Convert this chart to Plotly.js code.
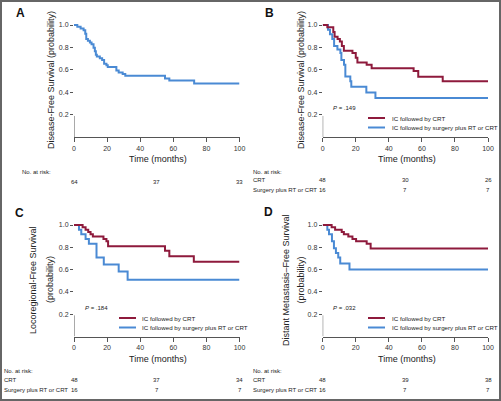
<!DOCTYPE html>
<html>
<head>
<meta charset="utf-8">
<script src="https://cdn.plot.ly/plotly-3.0.1.min.js"></script>
<style>html,body{margin:0;padding:0;background:#fff;}#chart{width:501px;height:401px;}</style>
</head>
<body>
<div id="chart"></div>
<script>
// ---------------- DATA ----------------
const xTicks = [0, 20, 40, 60, 80, 100];
const yTicks = [0.2, 0.4, 0.6, 0.8, 1.0];
const riskTimes = [0, 50, 100];

// Panel A: disease-free survival, all patients
const dfsAllT = [0, 2, 4, 5.8, 6.8, 7.4, 8.4, 9.6, 10.6, 11.8, 12.6, 13.2, 13.8, 15.6, 17, 18.2, 19.6, 20.4, 25.6, 27, 29.4, 31, 55, 57.6, 72.6, 100];
const dfsAllS = [1, 0.984, 0.969, 0.953, 0.922, 0.875, 0.859, 0.844, 0.828, 0.797, 0.766, 0.734, 0.719, 0.703, 0.688, 0.656, 0.641, 0.625, 0.594, 0.578, 0.563, 0.547, 0.523, 0.505, 0.48, 0.48];

// Panel B: disease-free survival by group
const dfsCrtT = [0, 2.8, 6.4, 7.2, 9, 10.4, 11.6, 12.8, 18, 20, 21, 26.6, 29.6, 55, 57.8, 72.6, 100];
const dfsCrtS = [1, 0.979, 0.938, 0.896, 0.875, 0.854, 0.813, 0.771, 0.75, 0.708, 0.667, 0.646, 0.614, 0.59, 0.54, 0.50, 0.50];
const dfsSurgT = [0, 3.2, 4.4, 5.8, 6.9, 8.9, 10.7, 11.3, 12.9, 13.7, 16.7, 17.3, 26.4, 31.9, 100];
const dfsSurgS = [1, 0.958, 0.917, 0.875, 0.813, 0.781, 0.75, 0.688, 0.646, 0.542, 0.5, 0.45, 0.40, 0.35, 0.35];

// Panel C: locoregional-free survival
const lrfsCrtT = [0, 5.2, 7, 8.6, 10, 11.4, 17.8, 19.6, 20.6, 55, 57.6, 72.4, 100];
const lrfsCrtS = [1, 0.979, 0.958, 0.938, 0.917, 0.896, 0.875, 0.854, 0.81, 0.77, 0.72, 0.67, 0.67];
const lrfsSurgT = [0, 3, 4.4, 7, 9, 13.6, 18, 27, 32.4, 100];
const lrfsSurgS = [1, 0.958, 0.917, 0.875, 0.833, 0.708, 0.646, 0.583, 0.51, 0.51];

// Panel D: distant metastasis-free survival
const dmfsCrtT = [0, 5.4, 7.5, 11.5, 12.8, 15.5, 18, 20.2, 26.6, 29, 100];
const dmfsCrtS = [1, 0.979, 0.958, 0.938, 0.917, 0.896, 0.875, 0.854, 0.833, 0.79, 0.79];
const dmfsSurgT = [0, 2.8, 3.8, 5.6, 6.8, 8, 9.4, 10.6, 16.2, 100];
const dmfsSurgS = [1, 0.958, 0.917, 0.854, 0.792, 0.75, 0.708, 0.656, 0.60, 0.60];

// Numbers at risk
const riskA = [64, 37, 33];
const riskBCrt = [48, 30, 26];
const riskBSurg = [16, 7, 7];
const riskCCrt = [48, 37, 34];
const riskCSurg = [16, 7, 7];
const riskDCrt = [48, 39, 38];
const riskDSurg = [16, 7, 7];

const panelLabels = ['A', 'B', 'C', 'D'];
const yTitleLines = [
  ['Disease-Free Survival (probability)'],
  ['Disease-Free Survival (probability)'],
  ['Locoregional-Free Survival', '(probability)'],
  ['Distant Metastasis\u2013Free Survival', '(probability)']
];
const xTitle = 'Time (months)';
const pValues = ['.149', '.184', '.032'];
const legendLabels = ['IC followed by CRT', 'IC followed by surgery plus RT or CRT'];
const riskHeader = 'No. at risk:';
const groupRowLabels = ['CRT', 'Surgery plus RT or CRT'];

// ---------------- STYLE / LAYOUT ----------------
const W = 501, H = 401;
const px = x => x / W;
const py = y => 1 - y / H;
const RED = '#8e1a3c', BLUE = '#4a8ad4';
const AX = '#555';
const SANS = '"Liberation Sans", Arial, sans-serif';

// plot-area geometry in pixels [left, right, bottom(y=0), top(y=1.02)]
const geo = [
  {l: 74, r: 239.5, b: 137.3, t: 22.75},
  {l: 322.7, r: 488, b: 137.3, t: 22.75},
  {l: 74, r: 239.5, b: 336.5, t: 222.8},
  {l: 322.7, r: 488, b: 336.5, t: 222.8}
];

function xax(g, anchor) {
  return {domain: [px(g.l), px(g.r)], range: [0, 100], anchor: anchor,
    showline: true, linecolor: AX, linewidth: 1, ticks: 'outside', ticklen: 4, tickwidth: 1, tickcolor: AX,
    tickvals: xTicks, showgrid: false, zeroline: false, fixedrange: true,
    tickfont: {family: SANS, size: 7, color: '#333'}};
}
function yax(g, anchor) {
  return {domain: [py(g.b), py(g.t)], range: [0, 1.02], anchor: anchor,
    showline: false, ticks: 'outside', ticklen: 3, tickwidth: 1, tickcolor: AX,
    tickvals: yTicks, ticktext: yTicks.map(v => v.toFixed(1)), showgrid: false, zeroline: false, fixedrange: true,
    tickfont: {family: SANS, size: 7, color: '#333'}};
}

function tr(t, s, color, ax) {
  return {x: t, y: s, type: 'scatter', mode: 'lines', line: {shape: 'hv', color: color, width: 2},
    xaxis: ax[0], yaxis: ax[1], hoverinfo: 'skip', showlegend: false};
}

const data = [
  tr(dfsAllT, dfsAllS, BLUE, ['x', 'y']),
  tr(dfsSurgT, dfsSurgS, BLUE, ['x2', 'y2']),
  tr(dfsCrtT, dfsCrtS, RED, ['x2', 'y2']),
  tr(lrfsSurgT, lrfsSurgS, BLUE, ['x3', 'y3']),
  tr(lrfsCrtT, lrfsCrtS, RED, ['x3', 'y3']),
  tr(dmfsSurgT, dmfsSurgS, BLUE, ['x4', 'y4']),
  tr(dmfsCrtT, dmfsCrtS, RED, ['x4', 'y4'])
];

const shapes = [];
const annotations = [];
const axIds = ['', '2', '3', '4'];

// frame
shapes.push({type: 'rect', xref: 'paper', yref: 'paper', x0: px(1), x1: px(500), y0: py(400), y1: py(1),
  line: {color: '#666', width: 2}, fillcolor: 'rgba(0,0,0,0)'});

function txt(x, y, text, opts) {
  annotations.push(Object.assign({xref: 'paper', yref: 'paper', x: px(x), y: py(y), text: text, showarrow: false,
    xanchor: 'left', yanchor: 'middle', font: {family: SANS, size: 6, color: '#222'}}, opts || {}));
}

const labelPos = [[20, 13], [269.5, 13], [19, 212.5], [268.5, 212]];
const yTitleX = [[51], [301], [33, 50], [286, 300.5]];
const yTitleY = [80, 80, 280, 280];

geo.forEach((g, i) => {
  const id = axIds[i];
  // partial y axis line (0 to about 0.2)
  shapes.push({type: 'line', xref: 'x' + id, yref: 'y' + id, x0: 0, x1: 0, y0: 0, y1: 0.19,
    line: {color: AX, width: 1}});
  // panel label
  txt(labelPos[i][0], labelPos[i][1], '<b>' + panelLabels[i] + '</b>',
    {xanchor: 'center', font: {family: SANS, size: 12, color: '#111'}});
  // y title lines
  yTitleLines[i].forEach((line, j) => {
    txt(yTitleX[i][j], yTitleY[i], line,
      {xanchor: 'center', textangle: -90, font: {family: SANS, size: 9, color: '#222'}});
  });
  // x title
  const cx = (g.l + g.r) / 2 + 1.5;
  txt(cx, g.b + 22, xTitle, {xanchor: 'center', font: {family: SANS, size: 9, color: '#222'}});
});

// legends and P values for panels B, C, D
const legPos = [{ll: 368, lr: 385, tx: 389.5, y: 118}, {ll: 119, lr: 136, tx: 140, y: 318}, {ll: 368, lr: 385, tx: 389.5, y: 318}];
legPos.forEach((lp, k) => {
  const cols = [RED, BLUE];
  cols.forEach((c, j) => {
    const yy = lp.y + j * 9.5;
    shapes.push({type: 'line', xref: 'paper', yref: 'paper', x0: px(lp.ll), x1: px(lp.lr), y0: py(yy), y1: py(yy),
      line: {color: c, width: 2}});
    txt(lp.tx, yy, legendLabels[j], {font: {family: SANS, size: 6.2, color: '#222'}});
  });
  const pX = (k === 1) ? 83 : 331;
  txt(pX, lp.y - 10, '<i>P</i> = ' + pValues[k], {font: {family: SANS, size: 6, color: '#222'}});
});

// numbers at risk
function riskRow(axisId, vals, y) {
  vals.forEach((v, j) => {
    annotations.push({xref: 'x' + axisId, yref: 'paper', x: riskTimes[j], y: py(y), text: String(v),
      showarrow: false, xanchor: 'center', yanchor: 'middle', font: {family: SANS, size: 6, color: '#222'}});
  });
}
// A
txt(20, 172, riskHeader);
riskRow('', riskA, 182);
// B
txt(251, 172, riskHeader);
txt(251, 179.5, groupRowLabels[0]);
txt(251, 190, groupRowLabels[1]);
riskRow('2', riskBCrt, 179.5);
riskRow('2', riskBSurg, 190);
// C
txt(2, 371, riskHeader);
txt(2, 379.5, groupRowLabels[0]);
txt(2, 390, groupRowLabels[1]);
riskRow('3', riskCCrt, 379.5);
riskRow('3', riskCSurg, 390);
// D
txt(251, 371, riskHeader);
txt(251, 379.5, groupRowLabels[0]);
txt(251, 390, groupRowLabels[1]);
riskRow('4', riskDCrt, 379.5);
riskRow('4', riskDSurg, 390);

const layout = {
  width: W, height: H, margin: {l: 0, r: 0, t: 0, b: 0},
  paper_bgcolor: '#fff', plot_bgcolor: 'rgba(0,0,0,0)', showlegend: false,
  xaxis: xax(geo[0], 'y'), yaxis: yax(geo[0], 'x'),
  xaxis2: xax(geo[1], 'y2'), yaxis2: yax(geo[1], 'x2'),
  xaxis3: xax(geo[2], 'y3'), yaxis3: yax(geo[2], 'x3'),
  xaxis4: xax(geo[3], 'y4'), yaxis4: yax(geo[3], 'x4'),
  shapes: shapes, annotations: annotations
};

Plotly.newPlot('chart', data, layout, {staticPlot: true, displayModeBar: false});
</script>
</body>
</html>
